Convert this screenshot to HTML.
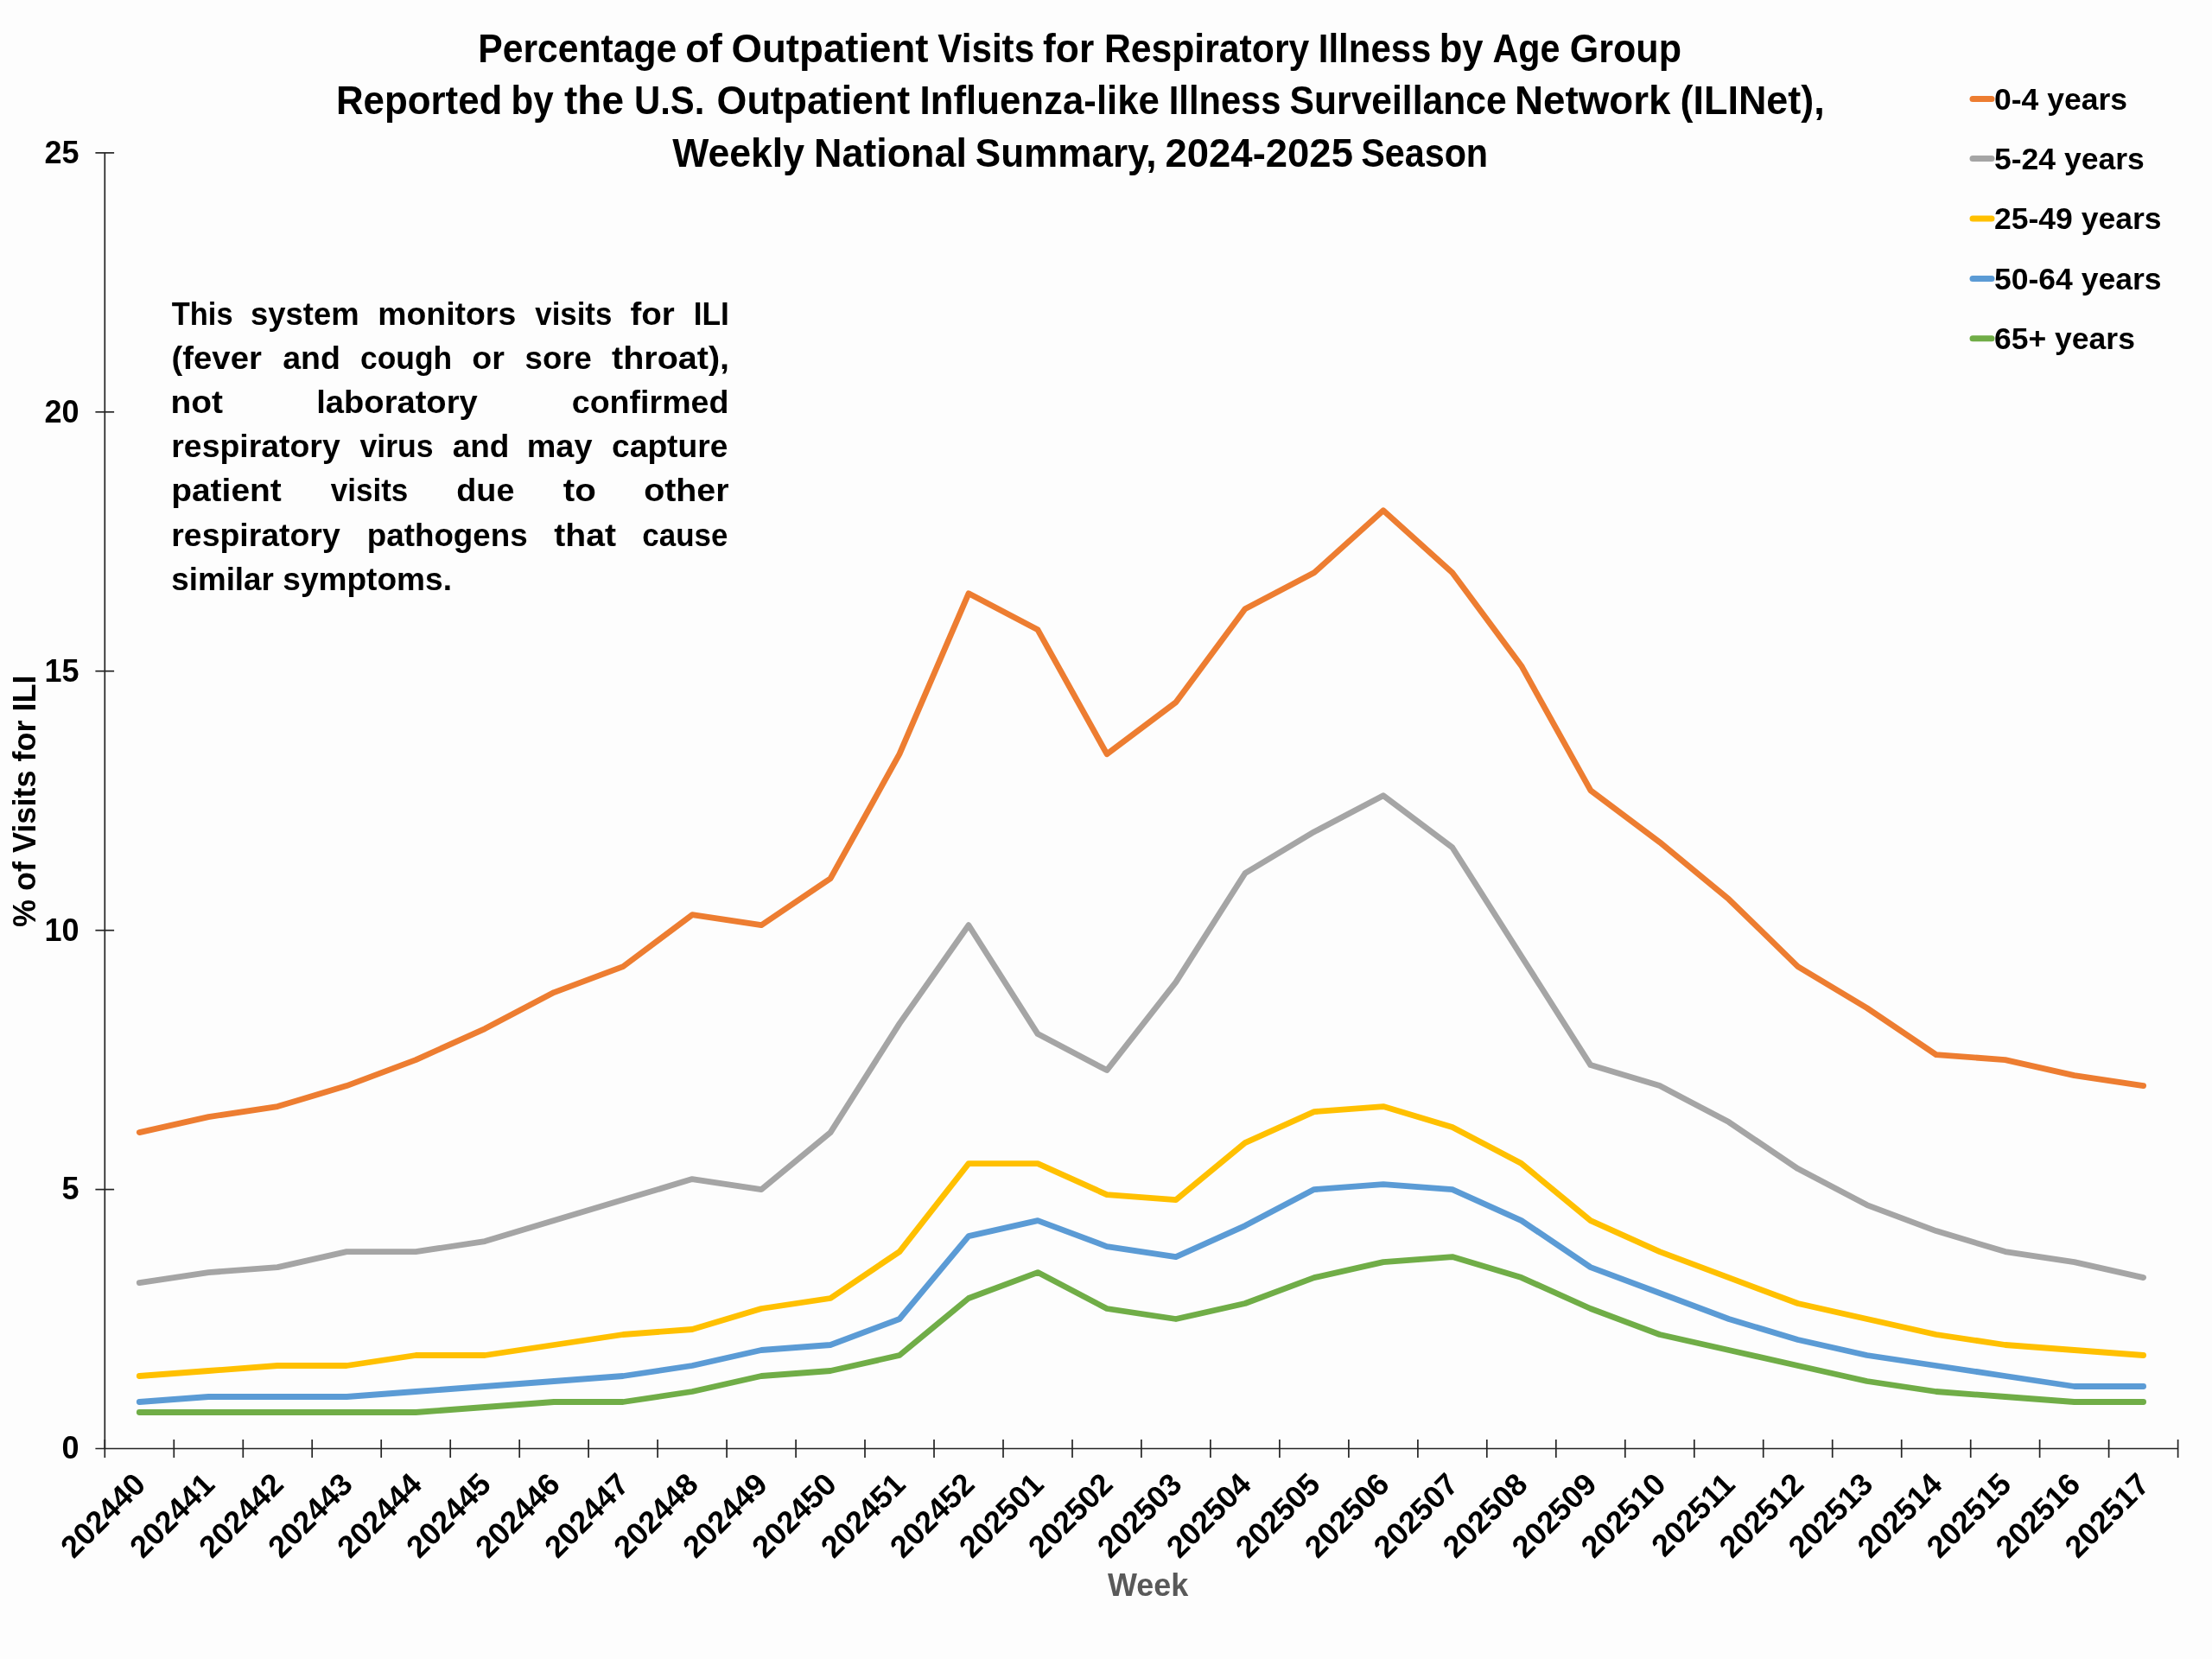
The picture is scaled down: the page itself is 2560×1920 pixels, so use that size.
<!DOCTYPE html>
<html><head><meta charset="utf-8">
<style>
html,body{margin:0;padding:0;background:#fdfdfd;}
body{width:2560px;height:1920px;overflow:hidden;font-family:"Liberation Sans",sans-serif;}
svg{display:block;will-change:transform;}
</style></head><body>
<svg width="2560" height="1920" viewBox="0 0 2560 1920">
<rect x="0" y="0" width="2560" height="1920" fill="#fdfdfd"/>
<g stroke="#242424" stroke-width="1.7" fill="none">
<line x1="121.3" y1="176.9" x2="121.3" y2="1676.5"/>
<line x1="110.4" y1="1676.5" x2="2520.6" y2="1676.5"/>
<line x1="110.4" y1="1376.6" x2="132.1" y2="1376.6"/>
<line x1="110.4" y1="1076.7" x2="132.1" y2="1076.7"/>
<line x1="110.4" y1="776.7" x2="132.1" y2="776.7"/>
<line x1="110.4" y1="476.8" x2="132.1" y2="476.8"/>
<line x1="110.4" y1="176.9" x2="132.1" y2="176.9"/>
<line x1="121.3" y1="1666" x2="121.3" y2="1687"/>
<line x1="201.3" y1="1666" x2="201.3" y2="1687"/>
<line x1="281.3" y1="1666" x2="281.3" y2="1687"/>
<line x1="361.2" y1="1666" x2="361.2" y2="1687"/>
<line x1="441.2" y1="1666" x2="441.2" y2="1687"/>
<line x1="521.2" y1="1666" x2="521.2" y2="1687"/>
<line x1="601.2" y1="1666" x2="601.2" y2="1687"/>
<line x1="681.1" y1="1666" x2="681.1" y2="1687"/>
<line x1="761.1" y1="1666" x2="761.1" y2="1687"/>
<line x1="841.1" y1="1666" x2="841.1" y2="1687"/>
<line x1="921.1" y1="1666" x2="921.1" y2="1687"/>
<line x1="1001.0" y1="1666" x2="1001.0" y2="1687"/>
<line x1="1081.0" y1="1666" x2="1081.0" y2="1687"/>
<line x1="1161.0" y1="1666" x2="1161.0" y2="1687"/>
<line x1="1241.0" y1="1666" x2="1241.0" y2="1687"/>
<line x1="1320.9" y1="1666" x2="1320.9" y2="1687"/>
<line x1="1400.9" y1="1666" x2="1400.9" y2="1687"/>
<line x1="1480.9" y1="1666" x2="1480.9" y2="1687"/>
<line x1="1560.9" y1="1666" x2="1560.9" y2="1687"/>
<line x1="1640.9" y1="1666" x2="1640.9" y2="1687"/>
<line x1="1720.8" y1="1666" x2="1720.8" y2="1687"/>
<line x1="1800.8" y1="1666" x2="1800.8" y2="1687"/>
<line x1="1880.8" y1="1666" x2="1880.8" y2="1687"/>
<line x1="1960.8" y1="1666" x2="1960.8" y2="1687"/>
<line x1="2040.7" y1="1666" x2="2040.7" y2="1687"/>
<line x1="2120.7" y1="1666" x2="2120.7" y2="1687"/>
<line x1="2200.7" y1="1666" x2="2200.7" y2="1687"/>
<line x1="2280.7" y1="1666" x2="2280.7" y2="1687"/>
<line x1="2360.6" y1="1666" x2="2360.6" y2="1687"/>
<line x1="2440.6" y1="1666" x2="2440.6" y2="1687"/>
<line x1="2520.6" y1="1666" x2="2520.6" y2="1687"/>
</g>
<polyline points="161.3,1310.6 241.3,1292.6 321.2,1280.6 401.2,1256.6 481.2,1226.6 561.2,1190.6 641.1,1148.6 721.1,1118.6 801.1,1058.7 881.1,1070.7 961.1,1016.7 1041.0,872.7 1121.0,686.8 1201.0,728.8 1281.0,872.7 1360.9,812.7 1440.9,704.8 1520.9,662.8 1600.9,590.8 1680.8,662.8 1760.8,770.7 1840.8,914.7 1920.8,974.7 2000.8,1040.7 2080.7,1118.6 2160.7,1166.6 2240.7,1220.6 2320.7,1226.6 2400.6,1244.6 2480.6,1256.6" fill="none" stroke="#ED7D31" stroke-width="6.8" stroke-linejoin="round" stroke-linecap="round"/>
<polyline points="161.3,1484.6 241.3,1472.6 321.2,1466.6 401.2,1448.6 481.2,1448.6 561.2,1436.6 641.1,1412.6 721.1,1388.6 801.1,1364.6 881.1,1376.6 961.1,1310.6 1041.0,1184.6 1121.0,1070.7 1201.0,1196.6 1281.0,1238.6 1360.9,1136.6 1440.9,1010.7 1520.9,962.7 1600.9,920.7 1680.8,980.7 1760.8,1106.7 1840.8,1232.6 1920.8,1256.6 2000.8,1298.6 2080.7,1352.6 2160.7,1394.6 2240.7,1424.6 2320.7,1448.6 2400.6,1460.6 2480.6,1478.6" fill="none" stroke="#A5A5A5" stroke-width="6.8" stroke-linejoin="round" stroke-linecap="round"/>
<polyline points="161.3,1592.5 241.3,1586.5 321.2,1580.5 401.2,1580.5 481.2,1568.5 561.2,1568.5 641.1,1556.5 721.1,1544.5 801.1,1538.5 881.1,1514.5 961.1,1502.5 1041.0,1448.6 1121.0,1346.6 1201.0,1346.6 1281.0,1382.6 1360.9,1388.6 1440.9,1322.6 1520.9,1286.6 1600.9,1280.6 1680.8,1304.6 1760.8,1346.6 1840.8,1412.6 1920.8,1448.6 2000.8,1478.6 2080.7,1508.5 2160.7,1526.5 2240.7,1544.5 2320.7,1556.5 2400.6,1562.5 2480.6,1568.5" fill="none" stroke="#FFC000" stroke-width="6.8" stroke-linejoin="round" stroke-linecap="round"/>
<polyline points="161.3,1622.5 241.3,1616.5 321.2,1616.5 401.2,1616.5 481.2,1610.5 561.2,1604.5 641.1,1598.5 721.1,1592.5 801.1,1580.5 881.1,1562.5 961.1,1556.5 1041.0,1526.5 1121.0,1430.6 1201.0,1412.6 1281.0,1442.6 1360.9,1454.6 1440.9,1418.6 1520.9,1376.6 1600.9,1370.6 1680.8,1376.6 1760.8,1412.6 1840.8,1466.6 1920.8,1496.5 2000.8,1526.5 2080.7,1550.5 2160.7,1568.5 2240.7,1580.5 2320.7,1592.5 2400.6,1604.5 2480.6,1604.5" fill="none" stroke="#5B9BD5" stroke-width="6.8" stroke-linejoin="round" stroke-linecap="round"/>
<polyline points="161.3,1634.5 241.3,1634.5 321.2,1634.5 401.2,1634.5 481.2,1634.5 561.2,1628.5 641.1,1622.5 721.1,1622.5 801.1,1610.5 881.1,1592.5 961.1,1586.5 1041.0,1568.5 1121.0,1502.5 1201.0,1472.6 1281.0,1514.5 1360.9,1526.5 1440.9,1508.5 1520.9,1478.6 1600.9,1460.6 1680.8,1454.6 1760.8,1478.6 1840.8,1514.5 1920.8,1544.5 2000.8,1562.5 2080.7,1580.5 2160.7,1598.5 2240.7,1610.5 2320.7,1616.5 2400.6,1622.5 2480.6,1622.5" fill="none" stroke="#70AD47" stroke-width="6.8" stroke-linejoin="round" stroke-linecap="round"/>
<g font-family="Liberation Sans" font-weight="bold" fill="#000">
<g font-size="36" text-anchor="end">
<text x="91.5" y="1688.3">0</text>
<text x="91.5" y="1388.4">5</text>
<text x="91.5" y="1088.5">10</text>
<text x="91.5" y="788.5">15</text>
<text x="91.5" y="488.6">20</text>
<text x="91.5" y="188.7">25</text>
</g>
<g font-size="36" text-anchor="end">
<text transform="translate(170.3,1720) rotate(-45)">202440</text>
<text transform="translate(250.3,1720) rotate(-45)">202441</text>
<text transform="translate(330.2,1720) rotate(-45)">202442</text>
<text transform="translate(410.2,1720) rotate(-45)">202443</text>
<text transform="translate(490.2,1720) rotate(-45)">202444</text>
<text transform="translate(570.2,1720) rotate(-45)">202445</text>
<text transform="translate(650.1,1720) rotate(-45)">202446</text>
<text transform="translate(730.1,1720) rotate(-45)">202447</text>
<text transform="translate(810.1,1720) rotate(-45)">202448</text>
<text transform="translate(890.1,1720) rotate(-45)">202449</text>
<text transform="translate(970.1,1720) rotate(-45)">202450</text>
<text transform="translate(1050.0,1720) rotate(-45)">202451</text>
<text transform="translate(1130.0,1720) rotate(-45)">202452</text>
<text transform="translate(1210.0,1720) rotate(-45)">202501</text>
<text transform="translate(1290.0,1720) rotate(-45)">202502</text>
<text transform="translate(1369.9,1720) rotate(-45)">202503</text>
<text transform="translate(1449.9,1720) rotate(-45)">202504</text>
<text transform="translate(1529.9,1720) rotate(-45)">202505</text>
<text transform="translate(1609.9,1720) rotate(-45)">202506</text>
<text transform="translate(1689.8,1720) rotate(-45)">202507</text>
<text transform="translate(1769.8,1720) rotate(-45)">202508</text>
<text transform="translate(1849.8,1720) rotate(-45)">202509</text>
<text transform="translate(1929.8,1720) rotate(-45)">202510</text>
<text transform="translate(2009.8,1720) rotate(-45)">202511</text>
<text transform="translate(2089.7,1720) rotate(-45)">202512</text>
<text transform="translate(2169.7,1720) rotate(-45)">202513</text>
<text transform="translate(2249.7,1720) rotate(-45)">202514</text>
<text transform="translate(2329.7,1720) rotate(-45)">202515</text>
<text transform="translate(2409.6,1720) rotate(-45)">202516</text>
<text transform="translate(2489.6,1720) rotate(-45)">202517</text>
</g>
<text x="1328.7" y="1846.7" font-size="36" fill="#595959" text-anchor="middle">Week</text>
<text transform="translate(40.8,927.3) rotate(-90)" font-size="36" text-anchor="middle">% of Visits for ILI</text>
<g font-size="35.5">
<line x1="2283" y1="114.4" x2="2305" y2="114.4" stroke="#ED7D31" stroke-width="7" stroke-linecap="round"/>
<text x="2308" y="126.7">0-4 years</text>
<line x1="2283" y1="183.6" x2="2305" y2="183.6" stroke="#A5A5A5" stroke-width="7" stroke-linecap="round"/>
<text x="2308" y="195.9">5-24 years</text>
<line x1="2283" y1="253.0" x2="2305" y2="253.0" stroke="#FFC000" stroke-width="7" stroke-linecap="round"/>
<text x="2308" y="265.3">25-49 years</text>
<line x1="2283" y1="322.6" x2="2305" y2="322.6" stroke="#5B9BD5" stroke-width="7" stroke-linecap="round"/>
<text x="2308" y="334.9">50-64 years</text>
<line x1="2283" y1="391.8" x2="2305" y2="391.8" stroke="#70AD47" stroke-width="7" stroke-linecap="round"/>
<text x="2308" y="404.1">65+ years</text>
</g>
<g font-size="46">
<text transform="translate(553.24,71.6) scale(0.9274,1)">Percentage</text>
<text transform="translate(793.32,71.6) scale(0.9787,1)">of</text>
<text transform="translate(846.55,71.6) scale(0.9913,1)">Outpatient</text>
<text transform="translate(1085.28,71.6) scale(0.9179,1)">Visits</text>
<text transform="translate(1207.06,71.6) scale(0.9633,1)">for</text>
<text transform="translate(1277.95,71.6) scale(0.9284,1)">Respiratory</text>
<text transform="translate(1525.78,71.6) scale(0.9124,1)">Illness</text>
<text transform="translate(1665.68,71.6) scale(0.9476,1)">by</text>
<text transform="translate(1727.60,71.6) scale(0.8962,1)">Age</text>
<text transform="translate(1816.86,71.6) scale(0.9358,1)">Group</text>
<text transform="translate(388.90,132.0) scale(0.9536,1)">Reported</text>
<text transform="translate(591.52,132.0) scale(0.9139,1)">by</text>
<text transform="translate(653.06,132.0) scale(0.9992,1)">the</text>
<text transform="translate(733.94,132.0) scale(0.9093,1)">U.S.</text>
<text transform="translate(829.59,132.0) scale(0.9727,1)">Outpatient</text>
<text transform="translate(1064.62,132.0) scale(0.9519,1)">Influenza-like</text>
<text transform="translate(1352.76,132.0) scale(0.9056,1)">Illness</text>
<text transform="translate(1492.61,132.0) scale(0.9265,1)">Surveillance</text>
<text transform="translate(1753.02,132.0) scale(0.9948,1)">Network</text>
<text transform="translate(1944.57,132.0) scale(0.9761,1)">(ILINet),</text>
<text transform="translate(778.28,192.9) scale(0.9687,1)">Weekly</text>
<text transform="translate(942.06,192.9) scale(0.9748,1)">National</text>
<text transform="translate(1128.82,192.9) scale(0.9580,1)">Summary,</text>
<text transform="translate(1348.53,192.9) scale(0.9886,1)">2024-2025</text>
<text transform="translate(1575.14,192.9) scale(0.8982,1)">Season</text>
</g>
<g font-size="37.6">
<text transform="translate(198.78,375.6) scale(0.9161,1)">This</text>
<text transform="translate(290.09,375.6) scale(0.9689,1)">system</text>
<text transform="translate(437.27,375.6) scale(0.9945,1)">monitors</text>
<text transform="translate(619.26,375.6) scale(0.9267,1)">visits</text>
<text transform="translate(729.54,375.6) scale(1.0240,1)">for</text>
<text transform="translate(802.66,375.6) scale(0.9377,1)">ILI</text>
<text transform="translate(198.56,427.2) scale(1.0184,1)">(fever</text>
<text transform="translate(327.26,427.2) scale(0.9976,1)">and</text>
<text transform="translate(417.08,427.2) scale(0.9402,1)">cough</text>
<text transform="translate(546.28,427.2) scale(0.9996,1)">or</text>
<text transform="translate(607.57,427.2) scale(0.9734,1)">sore</text>
<text transform="translate(708.04,427.2) scale(1.0509,1)">throat),</text>
<text transform="translate(197.49,478.2) scale(1.0350,1)">not</text>
<text transform="translate(366.27,478.2) scale(1.0141,1)">laboratory</text>
<text transform="translate(661.76,478.2) scale(1.0001,1)">confirmed</text>
<text transform="translate(198.27,529.4) scale(0.9951,1)">respiratory</text>
<text transform="translate(416.52,529.4) scale(0.9469,1)">virus</text>
<text transform="translate(523.76,529.4) scale(0.9823,1)">and</text>
<text transform="translate(609.77,529.4) scale(1.0053,1)">may</text>
<text transform="translate(708.01,529.4) scale(0.9898,1)">capture</text>
<text transform="translate(198.21,580.4) scale(1.0352,1)">patient</text>
<text transform="translate(382.78,580.4) scale(0.9318,1)">visits</text>
<text transform="translate(528.30,580.4) scale(1.0045,1)">due</text>
<text transform="translate(651.78,580.4) scale(1.0703,1)">to</text>
<text transform="translate(745.23,580.4) scale(1.0463,1)">other</text>
<text transform="translate(198.27,631.6) scale(0.9951,1)">respiratory</text>
<text transform="translate(424.82,631.6) scale(0.9780,1)">pathogens</text>
<text transform="translate(641.26,631.6) scale(1.0408,1)">that</text>
<text transform="translate(743.33,631.6) scale(0.9290,1)">cause</text>
<text transform="translate(198.30,683.0) scale(0.9783,1)">similar</text>
<text transform="translate(327.29,683.0) scale(0.9861,1)">symptoms.</text>
</g>
</g>
</svg>
</body></html>
